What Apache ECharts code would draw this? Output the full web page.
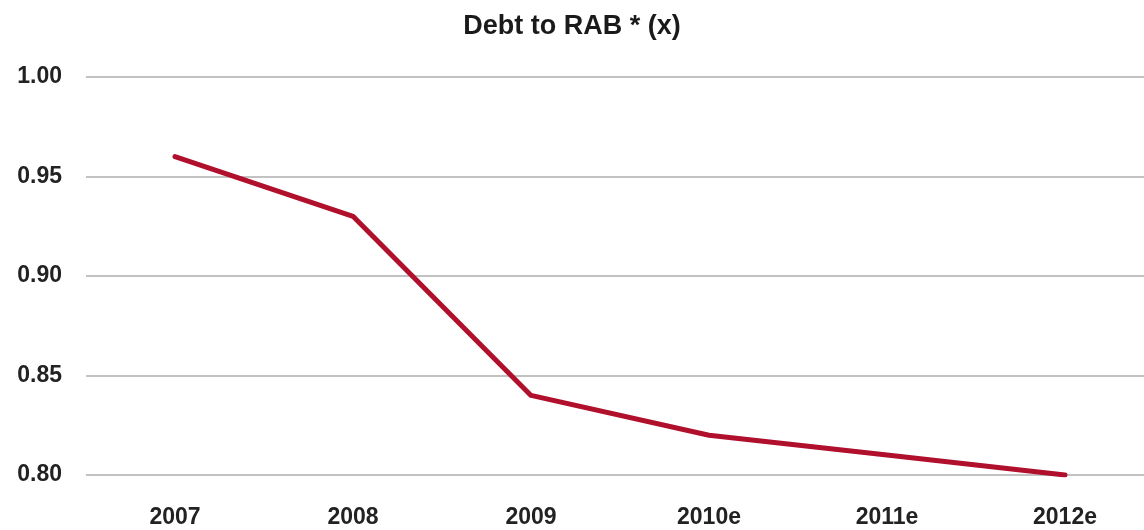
<!DOCTYPE html>
<html>
<head>
<meta charset="utf-8">
<script src="https://cdn.jsdelivr.net/npm/echarts@6/dist/echarts.min.js"></script>
<style>
  html, body { margin: 0; padding: 0; background: #fff; }
  #chart { width: 1144px; height: 530px; }
</style>
</head>
<body>
<div id="chart"></div>
<script>
// Debt to regulatory asset base ratio, actual and estimated years
const years = ['2007', '2008', '2009', '2010e', '2011e', '2012e'];
const debtToRab = [0.96, 0.93, 0.84, 0.82, 0.81, 0.80];
const yTicks = [0.80, 0.85, 0.90, 0.95, 1.00];

const font = '"Liberation Sans", Arial, sans-serif';

const chart = echarts.init(document.getElementById('chart'));
chart.setOption({
  backgroundColor: '#ffffff',
  animation: false,
  title: {
    text: 'Debt to RAB * (x)',
    left: 'center',
    top: 8,
    textStyle: { fontFamily: font, fontSize: 27, fontWeight: 'bold', color: '#1a1a1a' }
  },
  // plot area runs past the right edge so the last category sits near the border
  grid: { left: 86, width: 1068, top: 77, bottom: 55, outerBoundsMode: 'none', containLabel: false },
  xAxis: {
    type: 'category',
    data: years,
    boundaryGap: true,
    axisLine: { show: false },
    axisTick: { show: false },
    axisLabel: {
      margin: 31,
      fontFamily: font,
      fontSize: 23,
      fontWeight: 'bold',
      color: '#222'
    }
  },
  yAxis: {
    type: 'value',
    min: yTicks[0],
    max: yTicks[yTicks.length - 1],
    interval: 0.05,
    axisLine: { show: false },
    axisTick: { show: false },
    axisLabel: {
      margin: 24,
      fontFamily: font,
      fontSize: 23,
      fontWeight: 'bold',
      color: '#222',
      formatter: v => v.toFixed(2)
    },
    splitLine: { lineStyle: { color: '#c2c2c2', width: 2 } }
  },
  series: [{
    type: 'line',
    data: debtToRab,
    symbol: 'none',
    lineStyle: { color: '#b0102c', width: 5, cap: 'round', join: 'round' }
  }]
});
</script>
</body>
</html>
